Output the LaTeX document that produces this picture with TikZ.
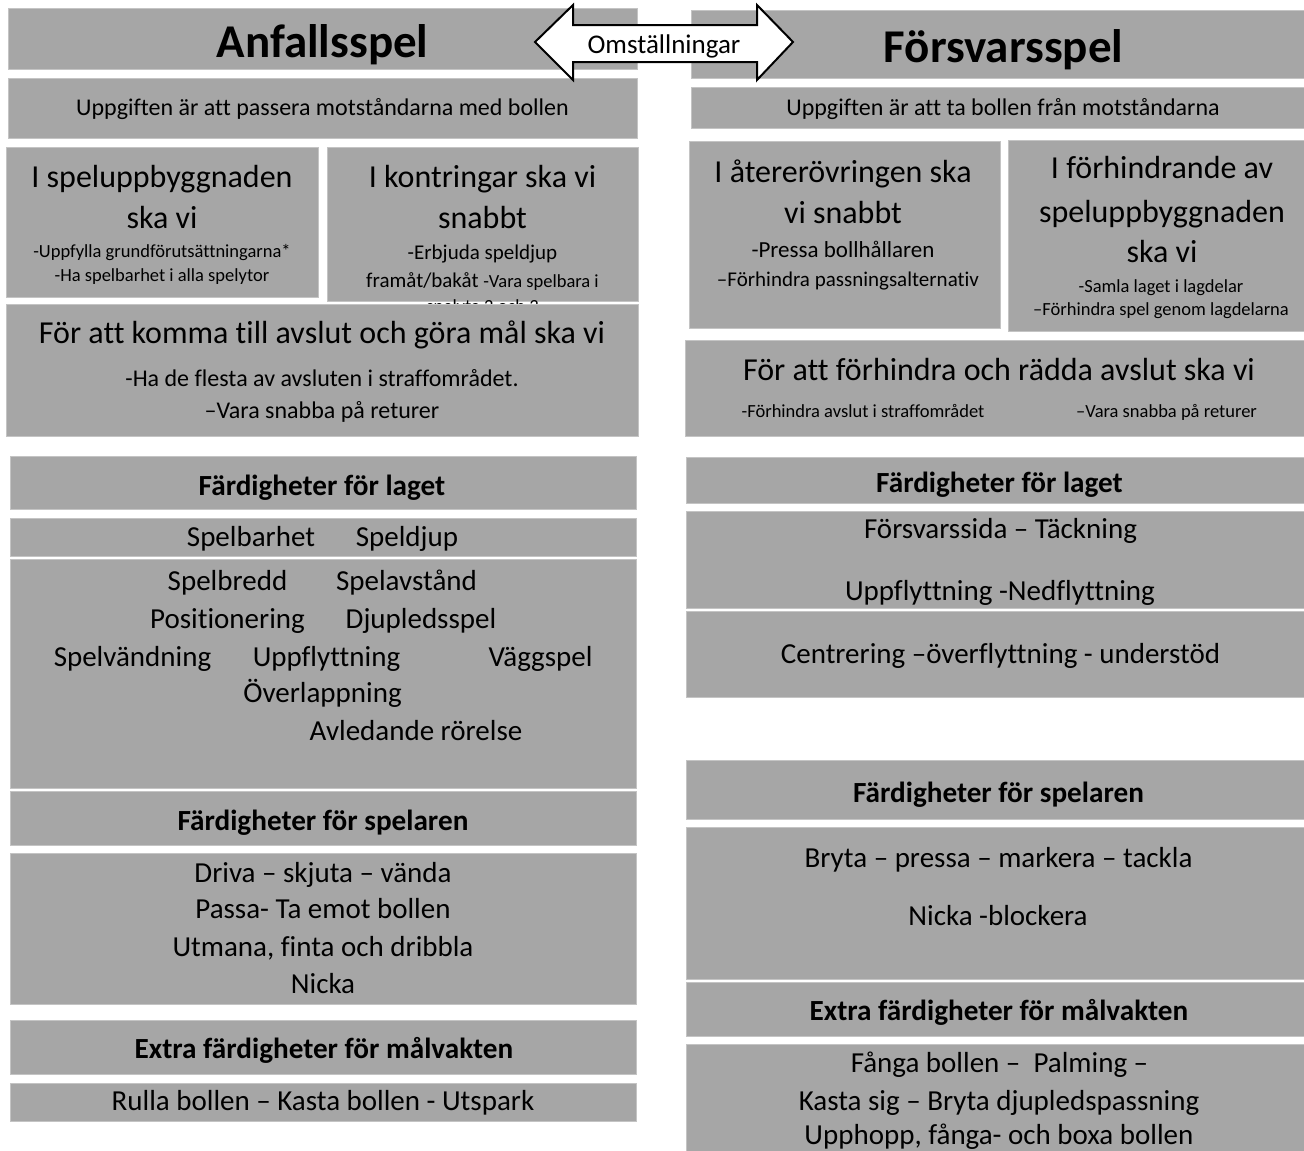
\documentclass[tikz,border=0pt]{standalone}
\usepackage{fontspec}
\setmainfont[Ligatures={NoCommon}]{Carlito}
\definecolor{boxgray}{RGB}{166,166,166}
\definecolor{boxedge}{RGB}{196,196,196}
\newcommand\fs[1]{\fontsize{#1}{#1}\selectfont}
\newcommand\gbx[5]{\node[gbox, minimum width={(#4-#2)*1pt}, minimum height={(#5-#3)*1pt}] (#1) at ({(#2+#4)/2},{(#3+#5)/2}) {};}
\tikzset{
  gbox/.style={fill=boxgray, draw=boxedge, line width=0.8pt, inner sep=0pt, outer sep=0pt},
  tx/.style={anchor=base, inner sep=0pt, outer sep=0pt, text=black},
  big/.style={tx, font=\fs{32}},
  mid/.style={tx, font=\fs{29}},
  sub/.style={tx, font=\fs{24}},
  sml/.style={tx, font=\fs{18.5}},
  hdr/.style={tx, font=\bfseries\fs{29.2}},
  ttl/.style={tx, font=\bfseries\fs{47}},
  dblarrow/.style={fill=white, draw=black, line width=2pt, line join=miter},
}
\begin{document}
\begin{tikzpicture}[x=1pt,y=-1pt]
\useasboundingbox (0,0) rectangle (1304,1151);
% ---------- left column ----------
\gbx{tA}{8}{8}{637}{69}
\gbx{uA}{8}{78}{637}{138}
\gbx{bA}{6}{147}{318}{297}
\gbx{kA}{327}{147}{638}{301}
\node[sml] (k5) at (482.5,312) {spelyta 2 och 3};
\gbx{fA}{6}{304}{638}{436}
\gbx{lagA}{10}{456}{636}{509}
\gbx{sbA}{10}{518}{636}{556}
\gbx{spA}{10}{559}{636}{788}
\gbx{pA}{10}{791}{636}{845}
\gbx{dA}{10}{853}{636}{1004}
\gbx{eA}{10}{1020}{636}{1074}
\gbx{rA}{10}{1083}{636}{1121}
% ---------- right column ----------
\gbx{tB}{691}{10}{1304}{78}
\gbx{uB}{691}{87}{1304}{128}
\gbx{aB}{689}{141}{1000}{328}
\gbx{hB}{1008}{140}{1304}{331}
\gbx{fB}{685}{340}{1304}{436}
\gbx{lagB}{686}{457}{1304}{503}
\gbx{svB}{686}{511}{1304}{608}
\gbx{ceB}{686}{611}{1304}{697}
\gbx{pB}{686}{760}{1304}{819}
\gbx{brB}{686}{827}{1304}{979}
\gbx{eB}{686}{982}{1304}{1036}
\gbx{faB}{686}{1044}{1304}{1151}
% ---------- arrow ----------
\draw[dblarrow] (535,42) -- (573,5) -- (573,25) -- (757,25) -- (757,5) -- (793,42)
  -- (757,80) -- (757,62) -- (573,62) -- (573,80) -- cycle;
\node[tx, font=\fs{27}] (om) at (664,53) {Omställningar};
% ---------- left texts ----------
\node[ttl] (tAt) at (322.5,57) {Anfallsspel};
\node[sub] (uAt) at (322.5,115) {Uppgiften är att passera motståndarna med bollen};
\node[big] (b1) at (162,187) {I speluppbyggnaden};
\node[big] (b2) at (162,228) {ska vi};
\node[sml] (b3) at (162,257) {-Uppfylla grundförutsättningarna*};
\node[sml] (b4) at (162,281) {-Ha spelbarhet i alla spelytor};
\node[big] (k1) at (482.5,187) {I kontringar ska vi};
\node[big] (k2) at (482.5,228) {snabbt};
\node[tx, font=\fs{21}] (k3) at (482.5,259) {-Erbjuda speldjup};
\node[tx] (k4) at (482.5,287) {\fs{21}framåt/bakåt \fs{18.5}-Vara spelbara i};
\node[big] (f1) at (322,343) {För att komma till avslut och göra mål ska vi};
\node[sub] (f2) at (322,386) {-Ha de flesta av avsluten i straffområdet.};
\node[sub] (f3) at (322,418) {–Vara snabba på returer};
\node[hdr] (lagAt) at (322,495) {Färdigheter för laget};
\node[mid] (s1) at (251,546) {Spelbarhet};
\node[mid] (s2) at (407,546) {Speldjup};
\node[mid] (s3) at (227.5,590) {Spelbredd};
\node[mid] (s4) at (406.5,590) {Spelavstånd};
\node[mid] (s5) at (227.5,628) {Positionering};
\node[mid] (s6) at (421,628) {Djupledsspel};
\node[mid] (s7) at (132.5,666) {Spelvändning};
\node[mid] (s8) at (326.5,666) {Uppflyttning};
\node[mid] (s9) at (540.5,666) {Väggspel};
\node[mid] (s10) at (322.5,702) {Överlappning};
\node[mid] (s11) at (416,740) {Avledande rörelse};
\node[hdr] (pAt) at (323,830) {Färdigheter för spelaren};
\node[mid] (d1) at (323,882) {Driva – skjuta – vända};
\node[mid] (d2) at (323,918) {Passa- Ta emot bollen};
\node[mid] (d3) at (323,956) {Utmana, finta och dribbla};
\node[mid] (d4) at (323,993) {Nicka};
\node[hdr] (eAt) at (324,1058) {Extra färdigheter för målvakten};
\node[mid] (rAt) at (323,1110) {Rulla bollen – Kasta bollen - Utspark};
% ---------- right texts ----------
\node[ttl] (tBt) at (1003.5,62) {Försvarsspel};
\node[sub] (uBt) at (1003,115) {Uppgiften är att ta bollen från motståndarna};
\node[big] (a1) at (843,182) {I återerövringen ska};
\node[big] (a2) at (843,223) {vi snabbt};
\node[tx, font=\fs{23}] (a3) at (843,257) {-Pressa bollhållaren};
\node[tx, font=\fs{21}] (a4) at (848,286) {–Förhindra passningsalternativ};
\node[big] (h1) at (1162,178) {I förhindrande av};
\node[big] (h2) at (1162,222) {speluppbyggnaden};
\node[big] (h3) at (1162,262) {ska vi};
\node[sml] (h4) at (1161,292) {-Samla laget i lagdelar};
\node[sml] (h5) at (1161,315) {–Förhindra spel genom lagdelarna};
\node[big] (fB1) at (999,380) {För att förhindra och rädda avslut ska vi};
\node[sml] (fB2) at (863,417) {-Förhindra avslut i straffområdet};
\node[sml] (fB3) at (1166.5,417) {–Vara snabba på returer};
\node[hdr] (lagBt) at (999.5,492) {Färdigheter för laget};
\node[mid] (v1) at (1000.5,538) {Försvarssida – Täckning};
\node[mid] (v2) at (1000,600) {Uppflyttning -Nedflyttning};
\node[mid] (c1) at (1000.5,663) {Centrering –överflyttning - understöd};
\node[hdr] (pBt) at (998.5,802) {Färdigheter för spelaren};
\node[mid] (br1) at (998.5,867) {Bryta – pressa – markera – tackla};
\node[mid] (br2) at (998,925) {Nicka -blockera};
\node[hdr] (eBt) at (999,1020) {Extra färdigheter för målvakten};
\node[mid] (fa1) at (999.5,1072) {Fånga bollen –\ \ Palming –};
\node[mid] (fa2) at (999,1110) {Kasta sig – Bryta djupledspassning};
\node[mid] (fa3) at (999,1144) {Upphopp, fånga- och boxa bollen};
\end{tikzpicture}
\end{document}
